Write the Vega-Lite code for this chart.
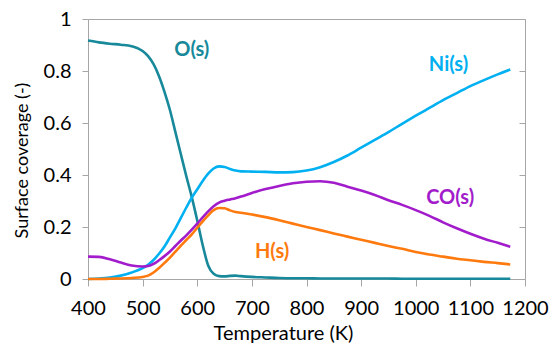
{
  "$schema": "https://vega.github.io/schema/vega-lite/v6.json",
  "width": 437,
  "height": 260,
  "autosize": "none",
  "padding": {"left": 88, "top": 19, "right": 24, "bottom": 68},
  "config": {
    "view": {"stroke": "#A6A6A6", "strokeWidth": 1},
    "font": "Lato"
  },
  "datasets": {
    "curves": [
      {"T": 400, "O": 0.917, "Ni": 0.0, "CO": 0.086, "H": 0.0},
      {"T": 420, "O": 0.910, "Ni": 0.002, "CO": 0.085, "H": 0.0},
      {"T": 440, "O": 0.905, "Ni": 0.006, "CO": 0.076, "H": 0.001},
      {"T": 460, "O": 0.901, "Ni": 0.013, "CO": 0.063, "H": 0.002},
      {"T": 480, "O": 0.895, "Ni": 0.025, "CO": 0.052, "H": 0.004},
      {"T": 500, "O": 0.877, "Ni": 0.042, "CO": 0.048, "H": 0.008},
      {"T": 510, "O": 0.857, "Ni": 0.055, "CO": 0.05, "H": 0.013},
      {"T": 520, "O": 0.826, "Ni": 0.073, "CO": 0.058, "H": 0.025},
      {"T": 530, "O": 0.78, "Ni": 0.097, "CO": 0.072, "H": 0.042},
      {"T": 540, "O": 0.72, "Ni": 0.125, "CO": 0.088, "H": 0.062},
      {"T": 550, "O": 0.65, "Ni": 0.16, "CO": 0.106, "H": 0.082},
      {"T": 560, "O": 0.565, "Ni": 0.195, "CO": 0.127, "H": 0.105},
      {"T": 570, "O": 0.48, "Ni": 0.235, "CO": 0.148, "H": 0.128},
      {"T": 580, "O": 0.395, "Ni": 0.275, "CO": 0.168, "H": 0.15},
      {"T": 590, "O": 0.315, "Ni": 0.313, "CO": 0.19, "H": 0.172},
      {"T": 600, "O": 0.225, "Ni": 0.345, "CO": 0.213, "H": 0.197},
      {"T": 610, "O": 0.13, "Ni": 0.377, "CO": 0.237, "H": 0.222},
      {"T": 620, "O": 0.052, "Ni": 0.405, "CO": 0.26, "H": 0.245},
      {"T": 630, "O": 0.02, "Ni": 0.425, "CO": 0.28, "H": 0.265},
      {"T": 640, "O": 0.011, "Ni": 0.433, "CO": 0.294, "H": 0.273},
      {"T": 650, "O": 0.01, "Ni": 0.431, "CO": 0.301, "H": 0.272},
      {"T": 660, "O": 0.012, "Ni": 0.423, "CO": 0.306, "H": 0.264},
      {"T": 670, "O": 0.013, "Ni": 0.417, "CO": 0.311, "H": 0.258},
      {"T": 680, "O": 0.011, "Ni": 0.414, "CO": 0.317, "H": 0.255},
      {"T": 700, "O": 0.008, "Ni": 0.413, "CO": 0.331, "H": 0.248},
      {"T": 725, "O": 0.006, "Ni": 0.412, "CO": 0.346, "H": 0.238},
      {"T": 750, "O": 0.004, "Ni": 0.41, "CO": 0.358, "H": 0.226},
      {"T": 775, "O": 0.003, "Ni": 0.411, "CO": 0.368, "H": 0.213},
      {"T": 800, "O": 0.003, "Ni": 0.417, "CO": 0.374, "H": 0.2},
      {"T": 825, "O": 0.002, "Ni": 0.43, "CO": 0.376, "H": 0.188},
      {"T": 850, "O": 0.002, "Ni": 0.45, "CO": 0.37, "H": 0.175},
      {"T": 875, "O": 0.002, "Ni": 0.475, "CO": 0.355, "H": 0.163},
      {"T": 900, "O": 0.002, "Ni": 0.505, "CO": 0.34, "H": 0.151},
      {"T": 925, "O": 0.002, "Ni": 0.535, "CO": 0.323, "H": 0.139},
      {"T": 950, "O": 0.002, "Ni": 0.565, "CO": 0.303, "H": 0.127},
      {"T": 975, "O": 0.001, "Ni": 0.597, "CO": 0.285, "H": 0.116},
      {"T": 1000, "O": 0.001, "Ni": 0.628, "CO": 0.265, "H": 0.104},
      {"T": 1025, "O": 0.001, "Ni": 0.658, "CO": 0.243, "H": 0.094},
      {"T": 1050, "O": 0.001, "Ni": 0.688, "CO": 0.218, "H": 0.086},
      {"T": 1075, "O": 0.001, "Ni": 0.715, "CO": 0.195, "H": 0.078},
      {"T": 1100, "O": 0.001, "Ni": 0.742, "CO": 0.174, "H": 0.072},
      {"T": 1125, "O": 0.001, "Ni": 0.765, "CO": 0.155, "H": 0.066},
      {"T": 1150, "O": 0.001, "Ni": 0.787, "CO": 0.139, "H": 0.061},
      {"T": 1173, "O": 0.001, "Ni": 0.806, "CO": 0.124, "H": 0.056}
    ],
    "labels": [
      {"label": "O(s)", "series": "O", "T": 590, "v": 0.881},
      {"label": "Ni(s)", "series": "Ni", "T": 1060, "v": 0.823},
      {"label": "CO(s)", "series": "CO", "T": 1063, "v": 0.31},
      {"label": "H(s)", "series": "H", "T": 737, "v": 0.104}
    ]
  },
  "layer": [
    {
      "data": {"name": "curves"},
      "transform": [{"fold": ["O", "Ni", "CO", "H"], "as": ["series", "v"]}],
      "mark": {"type": "line", "strokeWidth": 2.6, "interpolate": "monotone"},
      "encoding": {
        "x": {
          "field": "T", "type": "quantitative",
          "scale": {"domain": [400, 1200], "nice": false, "zero": false},
          "axis": {
            "values": [400, 500, 600, 700, 800, 900, 1000, 1100, 1200],
            "format": "d", "labelOverlap": false, "labelFlush": false, "labelBound": false,
            "grid": false, "domain": false,
            "tickColor": "#A6A6A6", "tickSize": 7,
            "labelFontSize": 20, "labelColor": "#000000", "labelPadding": 12,
            "labelFont": "Lato",
            "title": "Temperature (K)", "titleFontSize": 20, "titleFontWeight": "normal",
            "titleColor": "#000000", "titleFont": "Lato",
            "titleX": 195, "titleY": 60, "titleBaseline": "alphabetic", "titleAlign": "center"
          }
        },
        "y": {
          "field": "v", "type": "quantitative",
          "scale": {"domain": [0, 1], "nice": false, "zero": false},
          "axis": {
            "values": [0, 0.2, 0.4, 0.6, 0.8, 1],
            "format": "~g", "labelOverlap": false, "labelFlush": false, "labelBound": false,
            "grid": false, "domain": false,
            "tickColor": "#A6A6A6", "tickSize": 6,
            "labelFontSize": 20, "labelColor": "#000000", "labelPadding": 11,
            "labelFont": "Lato",
            "title": "Surface coverage (-)", "titleFontSize": 18, "titleFontWeight": "normal",
            "titleColor": "#000000", "titleFont": "Lato",
            "titleX": -61, "titleY": 141, "titleAngle": -90,
            "titleBaseline": "alphabetic", "titleAlign": "center"
          }
        },
        "color": {
          "field": "series", "type": "nominal",
          "scale": {"domain": ["O", "Ni", "CO", "H"], "range": ["#17899A", "#00B0F0", "#A21CCB", "#FF7A0E"]},
          "legend": null
        }
      }
    },
    {
      "data": {"name": "labels"},
      "mark": {"type": "text", "fontSize": 20, "fontWeight": "bold", "font": "Lato", "align": "center", "baseline": "middle"},
      "encoding": {
        "x": {"field": "T", "type": "quantitative", "scale": {"domain": [400, 1200], "nice": false, "zero": false},
          "axis": {
            "values": [400, 500, 600, 700, 800, 900, 1000, 1100, 1200],
            "format": "d", "labelOverlap": false, "labelFlush": false, "labelBound": false,
            "grid": false, "domain": false,
            "tickColor": "#A6A6A6", "tickSize": 7,
            "labelFontSize": 20, "labelColor": "#000000", "labelPadding": 12,
            "labelFont": "Lato",
            "title": "Temperature (K)", "titleFontSize": 20, "titleFontWeight": "normal",
            "titleColor": "#000000", "titleFont": "Lato",
            "titleX": 195, "titleY": 60, "titleBaseline": "alphabetic", "titleAlign": "center"
          }},
        "y": {"field": "v", "type": "quantitative", "scale": {"domain": [0, 1], "nice": false, "zero": false},
          "axis": {"orient": "right", "offset": -6, "labels": false, "domain": false, "grid": false, "ticks": true, "tickSize": 6, "tickColor": "#A6A6A6", "values": [0, 0.2, 0.4, 0.6, 0.8, 1], "title": null}},
        "text": {"field": "label"},
        "color": {
          "field": "series", "type": "nominal",
          "scale": {"domain": ["O", "Ni", "CO", "H"], "range": ["#17899A", "#00B0F0", "#A21CCB", "#FF7A0E"]},
          "legend": null
        }
      }
    }
  ],
  "resolve": {"axis": {"y": "independent"}}
}
